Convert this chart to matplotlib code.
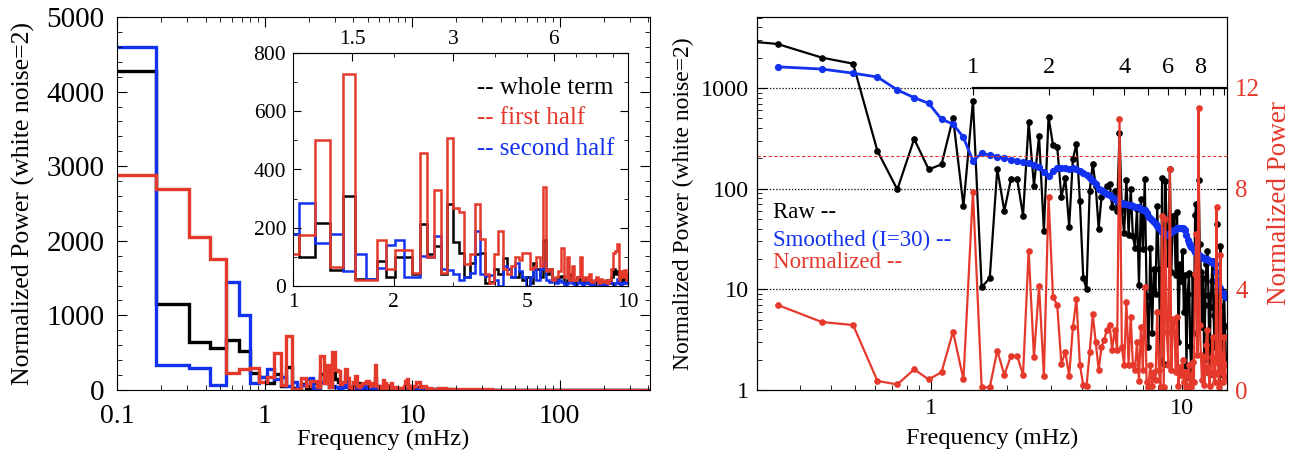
import numpy as np
import matplotlib.pyplot as plt
from matplotlib.ticker import FixedLocator, NullFormatter, MultipleLocator, LogLocator

plt.rcParams['font.family'] = ['Liberation Serif', 'DejaVu Serif']

# frequency step of the periodogram (mHz)
DF = 0.1225

# left panel: power per frequency bin, k = 1 .. 82 (up to ~10 mHz)
WHOLE = [4280, 1150, 650, 560, 670, 520, 230, 180, 98, 218,
         55, 309, 23, 23, 85, 30, 100, 98, 41, 213,
         110, 137, 41, 282, 152, 112, 32, 78, 110, 112,
         9, 15, 60, 40, 95, 60, 32, 30, 49, 20,
         30, 10, 78, 60, 30, 158, 40, 60, 25, 15,
         30, 35, 10, 20, 40, 15, 10, 30, 20, 12,
         25, 10, 20, 8, 15, 25, 10, 20, 8, 15,
         20, 10, 30, 60, 40, 50, 15, 25, 10, 35,
         20, 30]
FIRST = [2880, 2700, 2050, 1760, 230, 280, 300, 110, 174, 501,
         66, 727, 20, 20, 158, 60, 125, 125, 45, 458,
         100, 330, 43, 507, 267, 253, 75, 110, 280, 160,
         40, 10, 110, 190, 60, 40, 70, 100, 90, 115,
         115, 60, 65, 100, 70, 340, 50, 60, 20, 30,
         50, 130, 30, 100, 20, 70, 20, 30, 100, 20,
         30, 20, 40, 15, 20, 30, 10, 25, 15, 20,
         10, 20, 60, 115, 120, 145, 20, 50, 30, 55,
         20, 40]
SECOND = [4600, 335, 290, 67, 1452, 1005, 93, 180, 285, 149,
          178, 53, 110, 23, 61, 141, 158, 32, 32, 104,
          100, 170, 60, 55, 40, 20, 30, 45, 190, 40,
          35, 38, 20, 0, 70, 60, 30, 80, 50, 30,
          0, 30, 60, 20, 60, 80, 20, 15, 25, 10,
          20, 15, 5, 10, 20, 10, 5, 15, 10, 5,
          10, 20, 8, 5, 15, 10, 5, 10, 8, 5,
          10, 15, 10, 5, 10, 25, 10, 5, 10, 15,
          10, 20]

# coarse high-frequency tail (> 10 mHz)
HF_FREQ = [10.3, 11, 11.5, 12, 13, 14, 16, 18, 20, 25, 30, 40, 50, 70, 100, 150, 200, 300, 410]
HF_WHOLE = [30, 40, 20, 25, 15, 10, 10, 8, 5, 5, 4, 3, 3, 3, 2, 2, 2, 2, 2]
HF_FIRST = [60, 110, 40, 60, 30, 20, 25, 15, 10, 12, 8, 6, 5, 5, 4, 4, 4, 3, 3]
HF_SECOND = [10, 20, 10, 15, 10, 8, 6, 5, 4, 3, 3, 2, 2, 2, 2, 2, 2, 2, 2]

# right panel: raw power, k = 1 .. 122
RAW = [3200, 2730, 2000, 1740, 236, 98, 311, 155, 174, 506,
       67, 741, 10.5, 12.9, 157, 60, 124, 124, 54, 455,
       107, 333, 38, 514, 271, 257, 82, 126, 42, 195,
       279, 75, 13, 10, 95, 177, 105, 40, 82, 92,
       107, 112, 66, 94, 60, 360, 61, 36, 122, 35,
       99, 34, 26, 63, 11, 79, 25, 125, 8.6, 2.7,
       26, 3.7, 16, 9, 67, 16, 2, 128, 1.8, 118,
       40, 18, 158, 15, 53, 53, 14, 59, 3, 18,
       12, 24, 6, 14, 1.75, 9, 14.5, 2.75, 1.3, 14,
       3.7, 55, 71, 16, 123, 28, 15, 4.2, 13, 2,
       7, 18, 24, 8.8, 1.45, 6.7, 12, 19, 5.5, 2.7,
       8.3, 45, 9.2, 3.9, 0.5, 27, 6.9, 3.3, 1.4, 9.2,
       4.3, 2.1]
# smoothed power and normalized power, k = 2 .. 122
SMOOTHED = [1620, 1540, 1400, 1283, 955, 800, 703, 488, 438, 323,
            189, 224, 216, 208, 200, 194, 190, 184, 178, 172,
            165, 147, 133, 150, 160, 162, 162, 157, 160, 155,
            150, 143, 135, 126, 118, 110, 100, 96, 92, 89,
            86, 82, 78, 75, 74, 72, 71, 70, 69, 68,
            67, 66, 66, 65, 63, 62, 61, 57, 54, 51,
            49, 47, 45, 43, 41, 39, 37, 35.5, 34.6, 35,
            35.5, 36, 37, 38, 39, 40, 40.5, 41, 41, 41,
            40.5, 40, 39, 35, 31, 29, 27.5, 26.5, 25.5, 24.5,
            23.7, 23, 22.5, 22, 21.5, 21, 20.8, 20.5, 20.3, 20.1,
            20, 19.9, 19.6, 19.3, 19, 18.7, 18.4, 18.2, 18, 15,
            12.5, 11.5, 11, 10.6, 10.2, 9.8, 9.4, 9.1, 8.8, 8.6,
            8.4]
NORMALIZED = [3.38, 2.7, 2.58, 0.36, 0.22, 0.82, 0.42, 0.71, 2.32, 0.42,
              7.88, 0.1, 0.1, 1.56, 0.6, 1.35, 1.35, 0.6, 5.53, 1.3,
              4.13, 0.56, 7.68, 3.7, 3.36, 1.03, 1.52, 0.56, 2.49, 3.6,
              1.0, 0.18, 0.15, 1.5, 3.0, 1.9, 0.8, 1.7, 2.0, 2.4,
              2.6, 1.6, 2.4, 1.6, 10.75, 1.7, 1.0, 3.5, 1.0, 2.9,
              1.0, 0.8, 1.9, 0.35, 2.5, 0.8, 4.1, 0.3, 0.1, 1.0,
              0.15, 0.7, 0.4, 3.1, 0.8, 0.1, 6.9, 0.1, 6.8, 2.3,
              1.0, 8.77, 0.8, 2.8, 2.7, 0.7, 2.9, 0.15, 0.9, 0.6,
              1.2, 0.3, 0.7, 0.1, 0.6, 1.0, 0.2, 0.1, 1.1, 0.3,
              4.6, 6.2, 1.4, 11.2, 2.6, 1.4, 0.4, 1.3, 0.2, 0.7,
              1.8, 2.4, 0.9, 0.15, 0.7, 1.3, 2.1, 0.6, 0.3, 1.1,
              7.28, 1.6, 0.7, 0.1, 5.36, 1.4, 0.7, 0.3, 2.1, 1.0,
              0.5]
SIG_LEVEL = 9.3      # red dashed level (normalized power)
HARM_F0 = 1.47       # fundamental frequency for the harmonic axis (mHz)

RED = '#e5392c'
BLUE = '#1232f0'
W, H = 1300, 465


def box(x0, y0, x1, y1):
    # pixel box -> figure fraction rect
    return [x0 / W, 1 - y1 / H, (x1 - x0) / W, (y1 - y0) / H]


def edges_for(freq):
    mids = 0.5 * (freq[1:] + freq[:-1])
    return np.concatenate([[2 * freq[0] - mids[0]], mids, [2 * freq[-1] - mids[-1]]])


def main():
    fig = plt.figure(figsize=(13, 4.65), dpi=100)

    k_lo = np.arange(1, len(WHOLE) + 1)
    freq = np.concatenate([DF * k_lo, HF_FREQ])
    edges = edges_for(freq)
    series = [(np.concatenate([WHOLE, HF_WHOLE]), 'black'),
              (np.concatenate([SECOND, HF_SECOND]), BLUE),
              (np.concatenate([FIRST, HF_FIRST]), RED)]

    # ---- left panel ----
    ax = fig.add_axes(box(117, 17, 650, 390))
    for vals, c in series:
        ax.stairs(vals, edges, baseline=None, color=c, lw=2.4)
    ax.set_xscale('log')
    ax.set_xlim(0.1, 410)
    ax.set_ylim(0, 5000)
    ax.set_xticks([0.1, 1, 10, 100])
    ax.set_xticklabels(['0.1', '1', '10', '100'])
    ax.xaxis.set_minor_locator(LogLocator(subs=np.arange(2, 10)))
    ax.xaxis.set_minor_formatter(NullFormatter())
    ax.yaxis.set_major_locator(MultipleLocator(1000))
    ax.yaxis.set_minor_locator(MultipleLocator(200))
    ax.tick_params(which='both', direction='in', top=True, right=True)
    ax.tick_params(which='major', length=7)
    ax.tick_params(axis='x', which='major', labelsize=20, pad=10)
    ax.tick_params(axis='y', which='major', labelsize=21, pad=9)
    ax.tick_params(which='minor', length=3.5)
    ax.set_xlabel('Frequency (mHz)', fontsize=17.5, labelpad=0)
    ax.set_ylabel('Normalized Power (white noise=2)', fontsize=18.5, labelpad=8)

    # inset
    ai = fig.add_axes(box(293, 53, 628, 286))
    for vals, c in series:
        ai.stairs(vals, edges, baseline=None, color=c, lw=1.8)
    ai.set_xscale('log')
    ai.set_xlim(1, 10)
    ai.set_ylim(0, 800)
    ai.set_xticks([1, 2, 5, 10])
    ai.set_xticklabels(['1', '2', '5', '10'])
    ai.xaxis.set_minor_locator(LogLocator(subs=np.arange(2, 10)))
    ai.xaxis.set_minor_formatter(NullFormatter())
    ai.yaxis.set_major_locator(MultipleLocator(200))
    ai.yaxis.set_minor_locator(MultipleLocator(100))
    ai.tick_params(which='both', direction='in', top=False, right=True)
    ai.tick_params(which='major', length=6, labelsize=15.5, pad=5)
    ai.tick_params(which='minor', length=3)
    sec = ai.secondary_xaxis('top')
    sec.set_xticks([1.5, 3, 6])
    sec.set_xticklabels(['1.5', '3', '6'])
    sec.xaxis.set_minor_formatter(NullFormatter())
    sec.tick_params(which='both', direction='in', labelsize=15.5, pad=3)
    sec.tick_params(which='major', length=6)
    sec.tick_params(which='minor', length=3)
    for lab, c, y in [('-- whole term', 'black', 0.85), ('-- first half', RED, 0.72),
                      ('-- second half', BLUE, 0.59)]:
        ai.text(0.55, y, lab, color=c, fontsize=18, transform=ai.transAxes,
                ha='left', va='center')

    # ---- right panel ----
    ar = fig.add_axes(box(757, 17, 1227, 390))
    f_raw = DF * np.arange(1, len(RAW) + 1)
    f_sm = DF * np.arange(2, len(SMOOTHED) + 2)
    for yv in (10, 100, 1000):
        ar.axhline(yv, color='black', ls=(0, (1, 1.5)), lw=0.9, zorder=1)
    ar.plot(f_raw, RAW, color='black', lw=1.6, marker='o', ms=3.8, zorder=3)
    ar.plot(f_sm, SMOOTHED, color=BLUE, lw=2, marker='o', ms=4.2, zorder=4)
    ar.set_xscale('log')
    ar.set_yscale('log')
    ar.set_xlim(0.203, 15.1)
    ar.set_ylim(1, 5060)
    ar.set_xticks([1, 10])
    ar.set_xticklabels(['1', '10'])
    ar.set_yticks([1, 10, 100, 1000])
    ar.set_yticklabels(['1', '10', '100', '1000'])
    ar.xaxis.set_minor_formatter(NullFormatter())
    ar.yaxis.set_minor_formatter(NullFormatter())
    ar.tick_params(which='both', direction='in', top=False, right=False)
    ar.tick_params(which='major', length=7, labelsize=17.5, pad=6)
    ar.tick_params(which='minor', length=3.5)
    ar.set_xlabel('Frequency (mHz)', fontsize=17.5, labelpad=6)
    ar.set_ylabel('Normalized Power (white noise=2)', fontsize=17, labelpad=5)
    for lab, c, y in [('Raw --', 'black', 0.477), ('Smoothed (I=30) --', BLUE, 0.402),
                      ('Normalized --', RED, 0.343)]:
        ar.text(0.034, y, lab, color=c, fontsize=16.5, transform=ar.transAxes,
                ha='left', va='center')

    ar2 = ar.twinx()
    ar2.axhline(SIG_LEVEL, color=RED, ls=(0, (3, 2)), lw=0.8)
    ar2.plot(f_sm, NORMALIZED, color=RED, lw=1.6, marker='o', ms=3.8)
    ar2.set_ylim(0, 14.81)
    ar2.set_yticks([0, 4, 8, 12])
    ar2.tick_params(axis='y', direction='in', length=7, labelsize=18, labelcolor=RED, pad=6)
    ar2.set_ylabel('Normalized Power', color=RED, fontsize=19.5, labelpad=5)

    # harmonic number axis drawn at the 1000 level
    y_line = 1 - (390 - np.log10(1000) * 373 / np.log10(5060)) / H
    ah = fig.add_axes([757 / W, y_line, 470 / W, 1e-4])
    ah.patch.set_visible(False)
    ah.set_xscale('log')
    ah.set_xlim(0.203 / HARM_F0, 15.1 / HARM_F0)
    for s in ('top', 'left', 'right'):
        ah.spines[s].set_visible(False)
    ah.spines['bottom'].set_bounds(1, 15.1 / HARM_F0)
    ah.spines['bottom'].set_linewidth(1.6)
    ah.set_yticks([])
    harm = list(range(1, 11))
    ah.xaxis.set_major_locator(FixedLocator(harm))
    ah.set_xticklabels([str(h) if h in (1, 2, 4, 6, 8) else '' for h in harm])
    ah.xaxis.set_minor_locator(FixedLocator([]))
    ah.tick_params(axis='x', bottom=True, top=False, labelbottom=False, labeltop=True,
                   direction='out', length=5, labelsize=17.5, pad=2)

    fig.savefig('out.png', dpi=100)


if __name__ == '__main__':
    main()
